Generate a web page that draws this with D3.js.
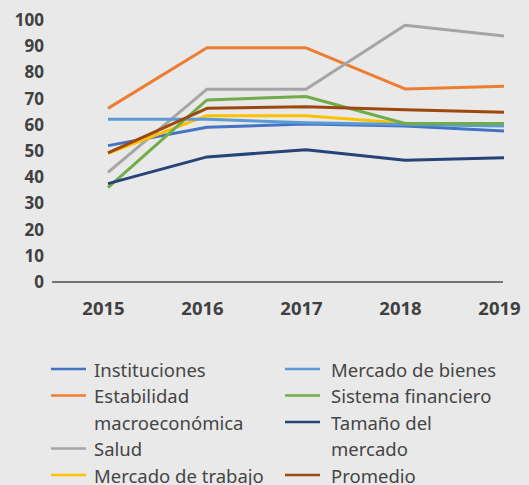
<!DOCTYPE html>
<html>
<head>
<meta charset="utf-8">
<script src="https://cdn.jsdelivr.net/npm/d3@7"></script>
<style>
  body { margin: 0; background: #e9e9e9; }
  svg { display: block; }
</style>
</head>
<body>
<div id="chart"></div>
<script>
// data
var years = ["2015", "2016", "2017", "2018", "2019"];
var yTicks = [0, 10, 20, 30, 40, 50, 60, 70, 80, 90, 100];

var seriesNames = [
  "Instituciones",
  "Estabilidad macroeconómica",
  "Salud",
  "Mercado de trabajo",
  "Mercado de bienes",
  "Sistema financiero",
  "Tamaño del mercado",
  "Promedio"
];
var seriesColors = ["#4472c4", "#ed7d31", "#a5a5a5", "#ffc000", "#5b9bd5", "#70ad47", "#264478", "#9e480e"];

var instituciones   = [52, 59, 60.2, 59.5, 57.6];
var estabilidad     = [66.2, 89.3, 89.3, 73.6, 74.6];
var salud           = [41.8, 73.5, 73.5, 97.9, 93.8];
var mercadoTrabajo  = [49, 63.4, 63.4, 60.5, 60];
var mercadoBienes   = [62, 62, 60.7, 60, 59.5];
var sistemaFin      = [36, 69.4, 70.7, 60.4, 60.4];
var tamanoMercado   = [37.5, 47.7, 50.4, 46.4, 47.4];
var promedio        = [49.2, 66.2, 66.8, 65.7, 64.7];

var seriesValues = [instituciones, estabilidad, salud, mercadoTrabajo, mercadoBienes, sistemaFin, tamanoMercado, promedio];

// legend: two columns, wrapped labels
var legendCol1 = [
  {idx: 0, lines: ["Instituciones"]},
  {idx: 1, lines: ["Estabilidad", "macroeconómica"]},
  {idx: 2, lines: ["Salud"]},
  {idx: 3, lines: ["Mercado de trabajo"]}
];
var legendCol2 = [
  {idx: 4, lines: ["Mercado de bienes"]},
  {idx: 5, lines: ["Sistema financiero"]},
  {idx: 6, lines: ["Tamaño del", "mercado"]},
  {idx: 7, lines: ["Promedio"]}
];

var W = 529, H = 485;
var svg = d3.select("#chart").append("svg")
    .attr("width", W).attr("height", H);

svg.append("rect").attr("width", W).attr("height", H).attr("fill", "#e9e9e9");

var x = d3.scalePoint().domain(years).range([108, 504]);
var y = d3.scaleLinear().domain([0, 100]).range([282, 19.7]);

var font = "'Noto Sans', 'Open Sans', sans-serif";

// y tick labels
svg.append("g")
  .selectAll("text")
  .data(yTicks)
  .enter().append("text")
    .attr("x", 44)
    .attr("y", function(d){ return y(d); })
    .attr("dy", "0.36em")
    .attr("text-anchor", "end")
    .attr("font-family", font)
    .attr("font-weight", "bold")
    .attr("font-size", 17)
    .attr("fill", "#404040")
    .text(function(d){ return d; });

// x axis line
svg.append("line")
  .attr("x1", 52).attr("x2", 503)
  .attr("y1", y(0)).attr("y2", y(0))
  .attr("stroke", "#000").attr("stroke-width", 1.2);

// x labels
svg.append("g")
  .selectAll("text")
  .data(years)
  .enter().append("text")
    .attr("x", function(d){ return x(d) - 4.5; })
    .attr("y", 308)
    .attr("dy", "0.36em")
    .attr("text-anchor", "middle")
    .attr("font-family", font)
    .attr("font-weight", "bold")
    .attr("font-size", 18.5)
    .attr("fill", "#404040")
    .text(function(d){ return d; });

// lines
var line = d3.line()
  .x(function(d, i){ return x(years[i]); })
  .y(function(d){ return y(d); });

svg.append("g")
  .selectAll("path")
  .data(seriesValues)
  .enter().append("path")
    .attr("d", function(d){ return line(d); })
    .attr("fill", "none")
    .attr("stroke", function(d, i){ return seriesColors[i]; })
    .attr("stroke-width", 3)
    .attr("stroke-linejoin", "round");

// legend
function drawLegend(items, lx, tx) {
  var rowY = 370, step = 26.5;
  items.forEach(function(it){
    var g = svg.append("g");
    g.append("line")
      .attr("x1", lx).attr("x2", lx + 35)
      .attr("y1", rowY - 1).attr("y2", rowY - 1)
      .attr("stroke", seriesColors[it.idx])
      .attr("stroke-width", 2.5);
    it.lines.forEach(function(t, k){
      g.append("text")
        .attr("x", tx)
        .attr("y", rowY + k * step)
        .attr("dy", "0.36em")
        .attr("font-family", font)
        .attr("font-size", 18.5)
        .attr("fill", "#454545")
        .text(t);
    });
    rowY += step * it.lines.length;
  });
}
drawLegend(legendCol1, 51, 94);
drawLegend(legendCol2, 285, 331);
</script>
</body>
</html>
